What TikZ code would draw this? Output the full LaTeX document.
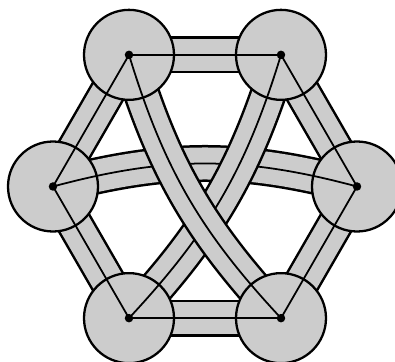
\documentclass[tikz,border=0pt]{standalone}
\usepackage{tikz}

% one band of the surface: black rim, grey body, edge line in the middle
\newcommand{\ribbon}[1]{%
    \draw[bandrim] #1;
    \draw[bandbody] #1;
    \draw[edgeline] #1;
}

\begin{document}
\begin{tikzpicture}

    \tikzset{
        bandrim/.style={line width=0.74cm, black},
        bandbody/.style={line width=0.64cm, black!20},
        edgeline/.style={line width=1pt, black},
        vertexdisk/.style={fill=black!20, draw=black, line width=1.3pt}
    }

    \useasboundingbox (0,0) rectangle (7.9,7.24);

    % ==========================================
    % Vertices of the hexagon
    % ==========================================
    \coordinate (r)  at (7.14,3.51);
    \coordinate (tr) at (5.62,6.143);
    \coordinate (tl) at (2.58,6.143);
    \coordinate (l)  at (1.06,3.51);
    \coordinate (bl) at (2.58,0.877);
    \coordinate (br) at (5.62,0.877);

    % Hexagon sides
    \foreach \u/\v in {tl/tr, tr/r, r/br, br/bl, bl/l, l/tl}
        {\ribbon{(\u) -- (\v)}}

    % Long edges (lowest band first)
    \ribbon{(l) to[bend left=15] (r)}
    \ribbon{(tr) to[bend left=13] (bl)}
    \ribbon{(tl) to[bend right=13] (br)}

    % Disks
    \foreach \v in {tl, tr, l, r, bl, br}
        \draw[vertexdisk] (\v) circle (0.9);

    % Edge lines again, on top of the disks
    \begin{scope}
        \clip (tl) circle (0.9) (tr) circle (0.9) (l) circle (0.9)
              (r) circle (0.9) (bl) circle (0.9) (br) circle (0.9);
        \foreach \u/\v in {tl/tr, tr/r, r/br, br/bl, bl/l, l/tl}
            \draw[edgeline] (\u) -- (\v);
        \draw[edgeline] (l) to[bend left=15] (r);
        \draw[edgeline] (tr) to[bend left=13] (bl);
        \draw[edgeline] (tl) to[bend right=13] (br);
    \end{scope}

    % Dots
    \foreach \v in {tl, tr, l, r, bl, br}
        \fill (\v) circle (0.085);

\end{tikzpicture}
\end{document}
